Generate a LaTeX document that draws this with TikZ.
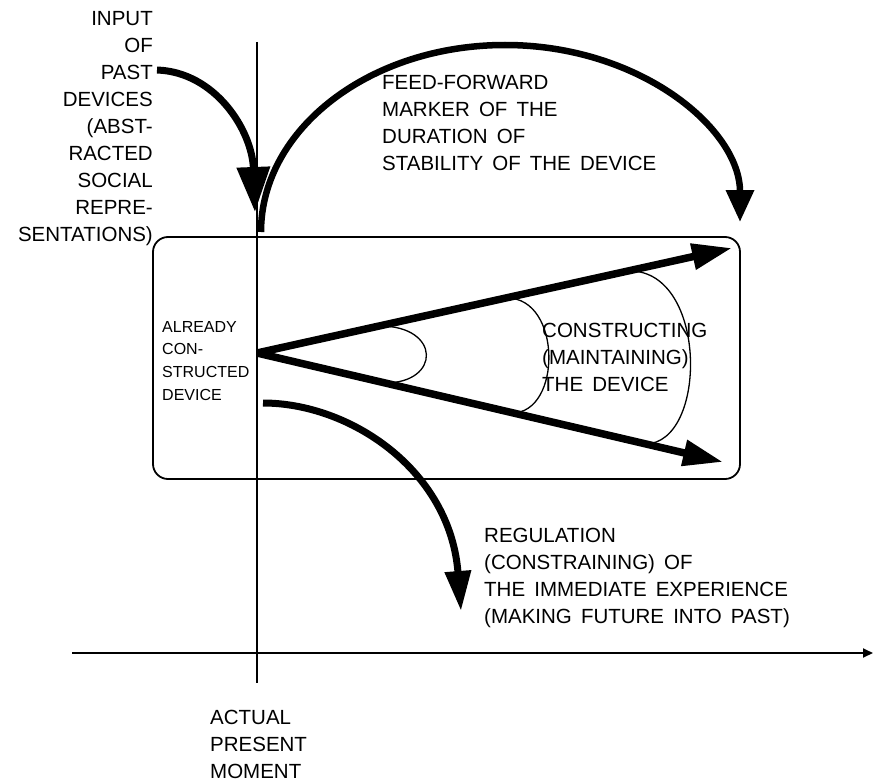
\documentclass[tikz,border=0pt]{standalone}
\usepackage{fontspec}
\setmainfont{Liberation Sans}[WordSpace=1.6]
\usetikzlibrary{arrows.meta}

\begin{document}
\begin{tikzpicture}[x=1bp,y=-1bp,
  lbl/.style={inner sep=0pt,align=left,font=\fontsize{20.5bp}{27bp}\selectfont},
  smalllbl/.style={inner sep=0pt,align=left,font=\fontsize{16bp}{22.7bp}\selectfont},
  bigarrow/.style={line width=7bp,-{Triangle[length=32bp,width=27bp]}},
  fanarrow/.style={line width=7.5bp,-{Triangle[length=40bp,width=25bp]}},
  fine/.style={line width=1.3bp}]
  \useasboundingbox (0,0) rectangle (873,783);

  % time axis and the present moment
  \coordinate (axL) at (72,653);
  \coordinate (axR) at (873,653);
  \coordinate (nowT) at (257,42);
  \coordinate (nowB) at (257,683);
  \draw[line width=1.8bp,-{Triangle[length=10bp,width=9bp]}] (axL) -- (axR);
  \draw[line width=1.4bp] (nowT) -- (nowB);

  % device box
  \node[draw,line width=1.8bp,rounded corners=15bp,minimum width=587bp,
        minimum height=242bp] (box) at (446.5,358) {};

  % fan of construction
  \coordinate (apex) at (257,353);
  \coordinate (uptip) at (732,248);
  \coordinate (lowtip) at (723,462);
  \draw[fanarrow] (apex) -- (uptip);
  \draw[fanarrow] (apex) -- (lowtip);
  \foreach \xa/\ya/\xc/\xb/\yb in {380/326/441/385/383,507/298/562/512/413,
                                   630/271/708/645/444}
    \draw[fine] (\xa,\ya) .. controls (\xc,\ya) and (\xc,\yb) .. (\xb,\yb);

  % labels
  \node[lbl,align=right,anchor=north east] (inputlbl) at (153,11)
    {INPUT\\OF\\PAST\\DEVICES\\(ABST-\\RACTED\\SOCIAL\\REPRE-\\SENTATIONS)};
  \node[lbl,anchor=north west] (feedlbl) at (382,75)
    {FEED-FORWARD\\MARKER OF THE\\DURATION OF\\STABILITY OF THE DEVICE};
  \node[smalllbl,anchor=north west] (builtlbl) at (162,321)
    {ALREADY\\CON-\\STRUCTED\\DEVICE};
  \node[lbl,anchor=north west] (constrlbl) at (542,323)
    {CONSTRUCTING\\(MAINTAINING)\\THE DEVICE};
  \node[lbl,anchor=north west] (reglbl) at (484,528)
    {REGULATION\\(CONSTRAINING) OF\\THE IMMEDIATE EXPERIENCE\\(MAKING FUTURE INTO PAST)};
  \node[lbl,anchor=north west] (momentlbl) at (210,710)
    {ACTUAL\\PRESENT\\MOMENT};

  % input of past devices
  \coordinate (inS) at (157,70);
  \coordinate (inE) at (255,212);
  \draw[bigarrow,-{Triangle[length=45bp,width=32bp]}]
    (inS) .. controls (215,72) and (252,130) .. (inE);

  % feed-forward marker
  \coordinate (ffS) at (261,232);
  \coordinate (ffE) at (740,222);
  \draw[bigarrow,line width=6.5bp]
    (ffS) .. controls (261,129) and (370,45) .. (505,45)
          .. controls (640,45) and (740,129) .. (ffE);

  % regulation of experience
  \coordinate (regS) at (263,403);
  \coordinate (regE) at (461,611);
  \draw[bigarrow,-{Triangle[length=40bp,width=25bp]}]
    (regS) .. controls (350,403) and (450,470) .. (regE);
\end{tikzpicture}
\end{document}
